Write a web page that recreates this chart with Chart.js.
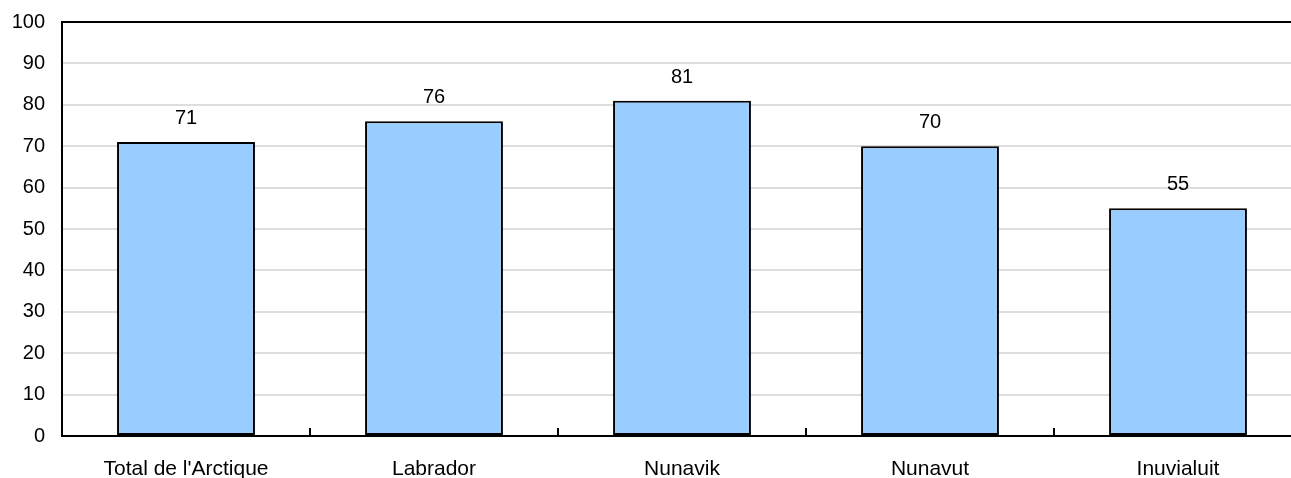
<!DOCTYPE html>
<html>
<head>
<meta charset="utf-8">
<script src="https://cdn.jsdelivr.net/npm/chart.js@4/dist/chart.umd.min.js"></script>
<style>
html,body{margin:0;padding:0;background:#fff;overflow:hidden;}
#wrap{width:1291px;height:478px;overflow:hidden;position:relative;}
#box{width:1302px;height:478px;position:absolute;left:0;top:0;}
</style>
</head>
<body>
<div id="wrap"><div id="box"><canvas id="c"></canvas></div></div>
<script>
const categories = ["Total de l'Arctique", "Labrador", "Nunavik", "Nunavut", "Inuvialuit"];
const values = [71, 76, 81, 70, 55];
const yTicks = [0, 10, 20, 30, 40, 50, 60, 70, 80, 90, 100];

const FONT = "'Liberation Sans', Arial, Helvetica, sans-serif";

const labelsPlugin = {
  id: 'valueLabels',
  afterDatasetsDraw(chart) {
    const ctx = chart.ctx;
    const meta = chart.getDatasetMeta(0);
    ctx.save();
    ctx.fillStyle = '#000';
    ctx.font = '20px ' + FONT;
    ctx.textAlign = 'center';
    ctx.textBaseline = 'alphabetic';
    meta.data.forEach((bar, i) => {
      ctx.fillText(String(values[i]), bar.x, bar.y - 18);
    });
    ctx.restore();
  }
};

const ticksPlugin = {
  id: 'innerTicks',
  afterDraw(chart) {
    const ctx = chart.ctx;
    const xs = chart.scales.x;
    const bottom = chart.chartArea.bottom;
    ctx.save();
    ctx.strokeStyle = '#000';
    ctx.lineWidth = 2;
    for (let i = 0; i < categories.length - 1; i++) {
      const px = (xs.getPixelForValue(i) + xs.getPixelForValue(i + 1)) / 2;
      ctx.beginPath();
      ctx.moveTo(px, bottom);
      ctx.lineTo(px, bottom - 8);
      ctx.stroke();
    }
    ctx.restore();
  }
};

new Chart(document.getElementById('c'), {
  type: 'bar',
  data: {
    labels: categories,
    datasets: [{
      data: values,
      backgroundColor: '#99CCFF',
      borderColor: '#000',
      borderWidth: 2,
      borderSkipped: false,
      categoryPercentage: 1,
      barPercentage: 0.556
    }]
  },
  options: {
    responsive: true,
    maintainAspectRatio: false,
    animation: false,
    layout: { padding: { top: 22, right: 0, left: 0, bottom: 0 } },
    plugins: { legend: { display: false }, tooltip: { enabled: false } },
    scales: {
      x: {
        grid: { display: false, drawTicks: false },
        border: { display: true, color: '#000', width: 2 },
        ticks: { color: '#000', font: { family: FONT, size: 21 }, padding: 21, maxRotation: 0, autoSkip: false },
        afterFit(s) { s.height = 42; }
      },
      y: {
        min: 0, max: 100,
        afterBuildTicks(s) { s.ticks = yTicks.map(v => ({ value: v })); },
        grid: {
          color: ctx => (ctx.tick && ctx.tick.value === 100) ? '#000' : '#dedede',
          lineWidth: 2,
          drawTicks: false
        },
        border: { display: true, color: '#000', width: 2 },
        ticks: { color: '#000', font: { family: FONT, size: 20 }, padding: 17 },
        afterFit(s) { s.width = 62; s.paddingTop = 0; s.paddingBottom = 0; }
      }
    }
  },
  plugins: [labelsPlugin, ticksPlugin]
});
</script>
</body>
</html>
